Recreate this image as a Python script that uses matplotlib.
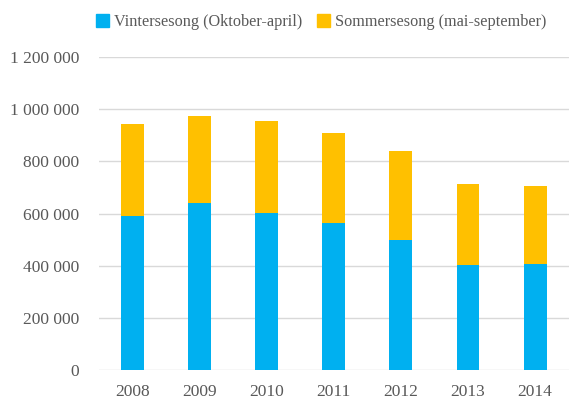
import matplotlib
matplotlib.use("Agg")
import matplotlib.pyplot as plt
from matplotlib.ticker import FuncFormatter
from matplotlib.patches import Patch

years = ["2008", "2009", "2010", "2011", "2012", "2013", "2014"]
winter = [592000, 640000, 601000, 565000, 499000, 405000, 407000]
summer = [353000, 333000, 356000, 345000, 341000, 307000, 300000]
labels = ["Vintersesong (Oktober-april)", "Sommersesong (mai-september)"]
colors = ["#00B0F0", "#FFC000"]

plt.rcParams['font.family'] = ['Liberation Serif', 'DejaVu Serif']

fig = plt.figure(figsize=(5.71, 4.05), dpi=100)
ax = fig.add_axes([0.173, 0.086, 0.823, 0.773])

x = list(range(len(years)))
ax.bar(x, winter, width=0.34, color=colors[0], zorder=3)
ax.bar(x, summer, width=0.34, bottom=winter, color=colors[1], zorder=3)

ax.set_xlim(-0.5, len(years) - 0.5)
ax.set_ylim(0, 1200000)
ax.set_yticks(range(0, 1200001, 200000))
ax.yaxis.set_major_formatter(FuncFormatter(lambda v, p: f"{int(v):,}".replace(",", " ")))
ax.set_xticks(x)
ax.set_xticklabels(years)
ax.grid(axis='y', color='#D9D9D9', linewidth=1, zorder=0)
for s in ax.spines.values():
    s.set_visible(False)
ax.tick_params(axis='both', length=0, labelsize=12.5, colors='#595959')
ax.tick_params(axis='y', pad=14)
ax.tick_params(axis='x', pad=10)

handles = [Patch(color=c) for c in colors]
fig.legend(handles, labels, loc='center', bbox_to_anchor=(0.562, 0.945), ncol=2,
           frameon=False, fontsize=11.7, handlelength=0.8, handleheight=0.8,
           handletextpad=0.3, columnspacing=0.9, labelcolor='#595959')

fig.savefig("out.png", dpi=100)
